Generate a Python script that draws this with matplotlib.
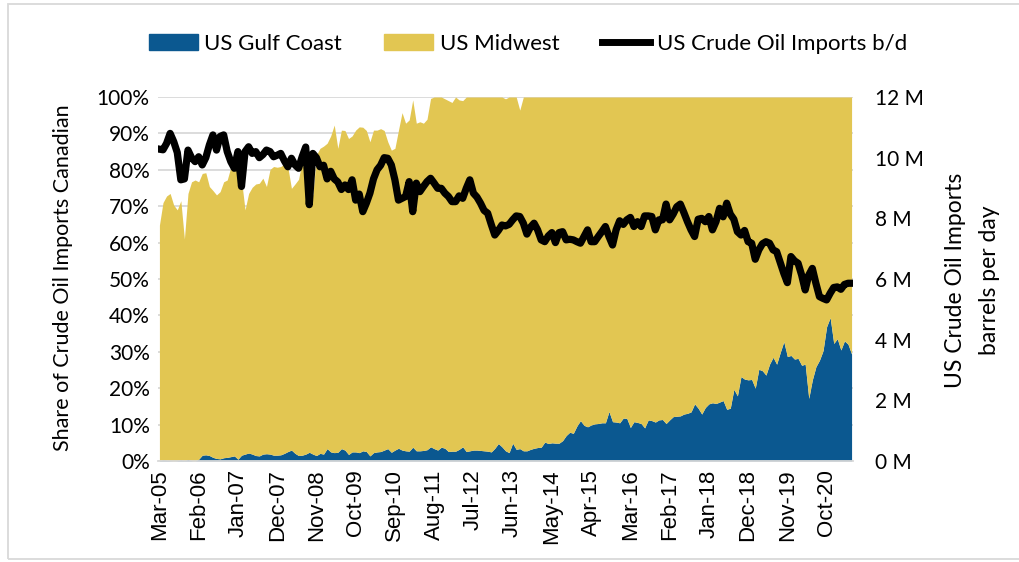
import numpy as np
import matplotlib
matplotlib.use("Agg")
import matplotlib.pyplot as plt
from matplotlib.patches import Patch, Rectangle
from matplotlib.lines import Line2D

# monthly, Mar-05 .. May-21
# US crude oil imports, million barrels per day (right axis)
imports_mbd = [
    10.28, 10.26, 10.47, 10.80, 10.53, 10.17, 9.27, 9.30, 10.25, 10.00,
    9.87, 10.03, 9.76, 10.00, 10.42, 10.75, 10.25, 10.70, 10.75, 10.20, 9.87, 9.65,
    10.20, 9.05, 10.20, 10.36, 10.14, 10.20, 10.00, 10.10, 10.25, 10.20, 10.03, 10.08,
    10.14, 9.90, 9.70, 9.98, 9.76, 9.65, 10.03, 10.35, 8.45, 10.14, 10.00, 9.70,
    9.75, 9.30, 9.55, 9.30, 9.20, 8.95, 9.10, 8.95, 9.27, 8.60, 8.80, 8.22,
    8.50, 8.83, 9.30, 9.60, 9.75, 10.00, 9.98, 9.76, 9.27, 8.60, 8.66, 8.72,
    9.21, 8.22, 9.16, 8.88, 9.05, 9.21, 9.32, 9.16, 8.99, 8.99, 8.83, 8.72,
    8.55, 8.55, 8.74, 8.66, 8.99, 9.27, 8.83, 8.70, 8.50, 8.26, 8.17, 7.80,
    7.45, 7.60, 7.78, 7.75, 7.80, 7.95, 8.08, 8.06, 7.84, 7.48, 7.71, 7.84,
    7.62, 7.29, 7.23, 7.42, 7.53, 7.20, 7.53, 7.56, 7.29, 7.31, 7.29, 7.23,
    7.18, 7.40, 7.62, 7.23, 7.23, 7.40, 7.56, 7.73, 7.40, 7.12, 7.62, 7.92,
    7.80, 7.95, 8.03, 7.73, 7.89, 7.73, 8.08, 8.08, 8.06, 7.62, 7.95, 7.95,
    8.47, 7.95, 8.14, 8.38, 8.47, 8.19, 7.89, 7.62, 7.40, 7.97, 8.00, 7.89,
    8.06, 7.62, 7.89, 8.33, 8.05, 8.50, 8.14, 7.97, 7.56, 7.45, 7.60, 7.23,
    7.18, 6.65, 6.96, 7.16, 7.23, 7.18, 6.96, 6.90, 6.54, 6.19, 5.88, 6.74,
    6.60, 6.52, 6.13, 5.64, 6.13, 6.35, 5.86, 5.42, 5.36, 5.31, 5.53, 5.72,
    5.74, 5.66, 5.82, 5.86, 5.86,
]

# Gulf Coast share (%), bottom layer
gulf_share = [
    0.1, 0.3, 0.2, 0.1, 0.0, 0.1, 0.3, 0.1, 0.4, 0.1,
    0.0, 0.5, 1.6, 1.7, 1.5, 1.0, 0.7, 0.6, 0.9, 1.0, 1.2, 1.4,
    0.5, 1.6, 1.9, 2.2, 1.9, 1.5, 1.4, 1.9, 2.0, 1.9, 1.6, 1.6,
    1.7, 2.1, 2.6, 3.0, 2.1, 1.5, 1.6, 1.9, 2.4, 1.9, 1.5, 2.1,
    1.9, 3.4, 2.5, 2.3, 2.4, 3.4, 3.0, 1.8, 2.5, 2.5, 2.3, 2.8,
    2.6, 1.4, 2.3, 2.5, 2.6, 3.0, 3.4, 2.4, 3.0, 3.5, 3.0, 2.8,
    2.7, 3.8, 2.8, 2.8, 2.9, 3.1, 3.9, 3.4, 3.0, 3.8, 3.5, 2.6,
    2.7, 2.7, 3.2, 3.9, 2.6, 2.8, 3.0, 3.0, 2.9, 2.8, 2.7, 2.5,
    3.5, 4.8, 3.9, 2.8, 2.3, 4.9, 3.2, 3.4, 2.8, 2.8, 3.2, 3.5,
    3.7, 3.8, 5.2, 4.8, 5.0, 4.9, 4.9, 5.6, 7.0, 7.9, 7.6, 9.6,
    11.1, 9.8, 9.4, 9.9, 10.2, 10.3, 10.5, 10.5, 13.6, 10.8, 10.7, 10.5,
    11.8, 11.7, 9.2, 10.8, 10.6, 10.3, 9.1, 11.3, 11.1, 10.7, 11.3, 11.4,
    10.3, 11.3, 12.2, 12.3, 12.4, 12.9, 13.1, 13.5, 15.7, 14.5, 12.9, 14.7,
    15.7, 16.0, 15.8, 16.2, 16.6, 14.2, 14.5, 19.7, 17.9, 23.2, 22.5, 22.3,
    22.4, 20.0, 25.2, 24.8, 23.6, 26.6, 28.5, 26.6, 29.8, 32.8, 28.7, 29.0,
    28.0, 28.2, 26.3, 26.6, 17.2, 22.3, 25.9, 27.7, 30.3, 36.9, 39.4, 32.3,
    33.6, 30.5, 33.0, 32.1, 29.4,
]

# top edge of the stacked Midwest layer (%), as shown (clipped at 100)
stack_top = [
    64.8, 71.0, 72.8, 73.5, 70.3, 69.0, 71.5, 61.0, 73.5, 76.7,
    77.2, 76.7, 79.0, 79.2, 75.4, 74.3, 73.1, 74.0, 76.7, 77.2, 80.7, 79.5,
    82.4, 77.2, 69.0, 73.5, 75.2, 76.1, 76.3, 77.7, 75.4, 80.1, 80.9, 80.7,
    80.9, 81.6, 80.7, 74.9, 76.1, 77.4, 82.5, 83.4, 76.0, 73.0, 84.1, 85.9,
    86.5, 87.3, 89.3, 92.3, 85.9, 90.9, 90.8, 88.6, 89.3, 90.9, 91.8, 91.7,
    90.8, 87.7, 90.9, 90.9, 91.3, 90.8, 87.7, 85.4, 85.9, 90.9, 95.7, 92.8,
    93.7, 99.2, 92.8, 93.2, 92.8, 93.9, 99.6, 100, 100, 100, 99.5, 99.0,
    98.5, 100, 99.2, 99.0, 100, 100, 100, 100, 100, 100, 100, 100,
    100, 100, 100, 99.5, 100, 100, 100, 96.4, 100, 100, 100, 100,
    100, 100, 100, 100, 100, 100, 100, 100, 100, 100, 100, 100,
    100, 100, 100, 100, 100, 100, 100, 100, 100, 100, 100, 100,
    100, 100, 100, 100, 100, 100, 100, 100, 100, 100, 100, 100,
    100, 100, 100, 100, 100, 100, 100, 100, 100, 100, 100, 100,
    100, 100, 100, 100, 100, 100, 100, 100, 100, 100, 100, 100,
    100, 100, 100, 100, 100, 100, 100, 100, 100, 100, 100, 100,
    100, 100, 100, 100, 100, 100, 100, 100, 100, 100, 100, 100,
    100, 100, 100, 100, 100,
]

tick_labels = ['Mar-05', 'Feb-06', 'Jan-07', 'Dec-07', 'Nov-08', 'Oct-09',
               'Sep-10', 'Aug-11', 'Jul-12', 'Jun-13', 'May-14', 'Apr-15',
               'Mar-16', 'Feb-17', 'Jan-18', 'Dec-18', 'Nov-19', 'Oct-20']

BLUE = '#0b5890'
YELLOW = '#e2c652'
GRID = '#d9d9d9'
FONT = 'Lato'

x = np.arange(len(imports_mbd))

fig = plt.figure(figsize=(10.19, 5.62), dpi=100)
ax = fig.add_axes([158/1019, 1-461/562, (853-158)/1019, (461-97)/562])

ax.fill_between(x, 0, gulf_share, color=BLUE, lw=0)
ax.fill_between(x, gulf_share, stack_top, color=YELLOW, lw=0)
ax.set_xlim(-0.4, len(x) - 0.6)
ax.set_ylim(0, 100)
ax.set_yticks(np.arange(0, 101, 10))
ax.set_yticklabels(['%d%%' % v for v in range(0, 101, 10)], fontsize=15, family=FONT)
ax.set_axisbelow(True)
ax.yaxis.grid(True, color=GRID, lw=1.3)
ax.set_xticks(x[::11][:len(tick_labels)])
ax.set_xticklabels(tick_labels, rotation=90, fontsize=16, family='Liberation Sans')
ax.tick_params(axis='both', length=0)
ax.tick_params(axis='y', pad=6)
ax.tick_params(axis='x', pad=6)
for s in ['top', 'left', 'right']:
    ax.spines[s].set_visible(False)
ax.spines['bottom'].set_color(GRID)
ax.spines['bottom'].set_linewidth(1.3)

ax2 = ax.twinx()
ax2.plot(x, imports_mbd, color='black', lw=5.2, solid_joinstyle='round')
ax2.set_ylim(0, 12)
ax2.set_yticks(np.arange(0, 13, 2))
ax2.set_yticklabels(['%d M' % v for v in range(0, 13, 2)], fontsize=15, family=FONT)
ax2.tick_params(axis='y', length=0, pad=16)
for s in ax2.spines.values():
    s.set_visible(False)

fig.text(63/1019, 1-278/562, 'Share of Crude Oil Imports Canadian', rotation=90,
         ha='center', va='center', fontsize=15.5, family=FONT)
fig.text(956/1019, 1-280/562, 'US Crude Oil Imports', rotation=90,
         ha='center', va='center', fontsize=16.5, family=FONT)
fig.text(990/1019, 1-280/562, 'barrels per day', rotation=90,
         ha='center', va='center', fontsize=16.5, family=FONT)

handles = [Patch(color=BLUE), Patch(color=YELLOW), Line2D([], [], color='black', lw=5)]
fig.legend(handles, ['US Gulf Coast', 'US Midwest', 'US Crude Oil Imports b/d'],
           loc='center', bbox_to_anchor=(528/1019, 1-44/562), ncol=3, frameon=False,
           prop={'family': FONT, 'size': 16}, handlelength=2.2, handleheight=0.7,
           handletextpad=0.3, columnspacing=1.9)

fig.patches.append(Rectangle((8/1019, 3/562), 1.2, 1-7/562, transform=fig.transFigure,
                             fill=False, edgecolor=GRID, lw=1.3))

fig.savefig('out.png', dpi=100)
